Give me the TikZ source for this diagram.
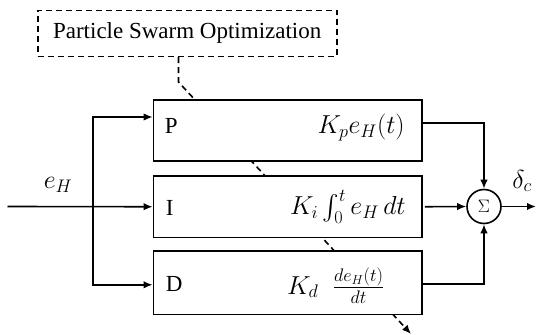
\documentclass[tikz,border=0pt]{standalone}
\usepackage{fix-cm}
\usepackage{amsmath}
\usepackage{fontspec}
\setmainfont{Liberation Serif}
\newfontfamily\blockfont{Liberation Serif}
\usetikzlibrary{arrows.meta,positioning,calc}

\begin{document}
\begin{tikzpicture}[x=1pt,y=1pt,
    >={Latex[length=9pt,width=7.5pt]},
    block/.style={draw, line width=1.8pt, fill=white, minimum width=268.5pt, inner sep=0pt},
    wire/.style={line width=1.6pt},
    tag/.style={font=\blockfont\fontsize{23}{27}\selectfont, inner sep=0pt, anchor=west},
    gain/.style={font=\fontsize{26}{30}\selectfont, inner sep=0pt, anchor=east}]
    \useasboundingbox (0,0) rectangle (536,335);

    % Optimizer
    \node[draw, line width=1.6pt, dash pattern=on 6pt off 4pt, minimum width=299pt, minimum height=46pt,
          font=\blockfont\fontsize{23}{27}\selectfont] (pso) at (187.2,301.6) {Particle Swarm Optimization};

    % Tuning arrow, passes behind the blocks
    \coordinate (bend) at (178.5,253);
    \coordinate (tune) at (411,1);
    \draw[->, wire, dash pattern=on 6pt off 4pt] ([xshift=-8.7pt]pso.south) -- (bend) -- (tune);

    % Controller blocks
    \node[block, minimum height=61pt] (P) at (287.75,204.5) {};
    \node[block, minimum height=61.5pt] (I) at (287.75,128.25) {};
    \node[block, minimum height=63.5pt] (D) at (287.75,52.2) {};

    % Block names
    \node[tag] (Pname) at ([xshift=12pt,yshift=5pt]P.west) {P};
    \node[tag] (Iname) at ([xshift=13pt,yshift=-1pt]I.west) {I};
    \node[tag] (Dname) at ([xshift=13pt,yshift=-1pt]D.west) {D};

    % Gains
    \node[gain] (Pgain) at ([xshift=-18pt,yshift=3pt]P.east) {$K_p e_H(t)$};
    \node[gain] (Igain) at ([xshift=-17pt]I.east) {$K_i \int_0^t e_H\,dt$};
    \node[gain] (Dgain) at ([xshift=-38.5pt,yshift=-2.7pt]D.east) {$K_d\;\; \frac{de_H(t)}{dt}$};

    % Summing junction
    \node[draw, circle, wire, fill=white, minimum size=34pt, inner sep=0pt,
          font=\fontsize{18}{20}\selectfont] (sum) at (484,128.5) {$\Sigma$};

    % Input and branches
    \coordinate (in) at (7.5,128.5);
    \coordinate (split) at (93,128.5);
    \node[font=\fontsize{26}{30}\selectfont] (ein) at (58,150) {$e_H$};
    \draw[->, wire] (in) -- (I.west);
    \draw[->, wire] (split) |- ([yshift=13.5pt]P.west);
    \draw[->, wire] (split) |- ([yshift=-2pt]D.west);

    % Outputs into the sum
    \draw[->, wire] ([yshift=7.5pt]P.east) -| (sum.north);
    \draw[->, wire] ([xshift=2pt]I.east) -- (sum.west);
    \draw[->, wire] ([yshift=-1pt]D.east) -| (sum.south);

    % Control output
    \coordinate (out) at (536,128.5);
    \draw[->, wire] (sum.east) -- (out);
    \node[font=\fontsize{26}{30}\selectfont] (dout) at (522,154) {$\delta_c$};
\end{tikzpicture}
\end{document}
